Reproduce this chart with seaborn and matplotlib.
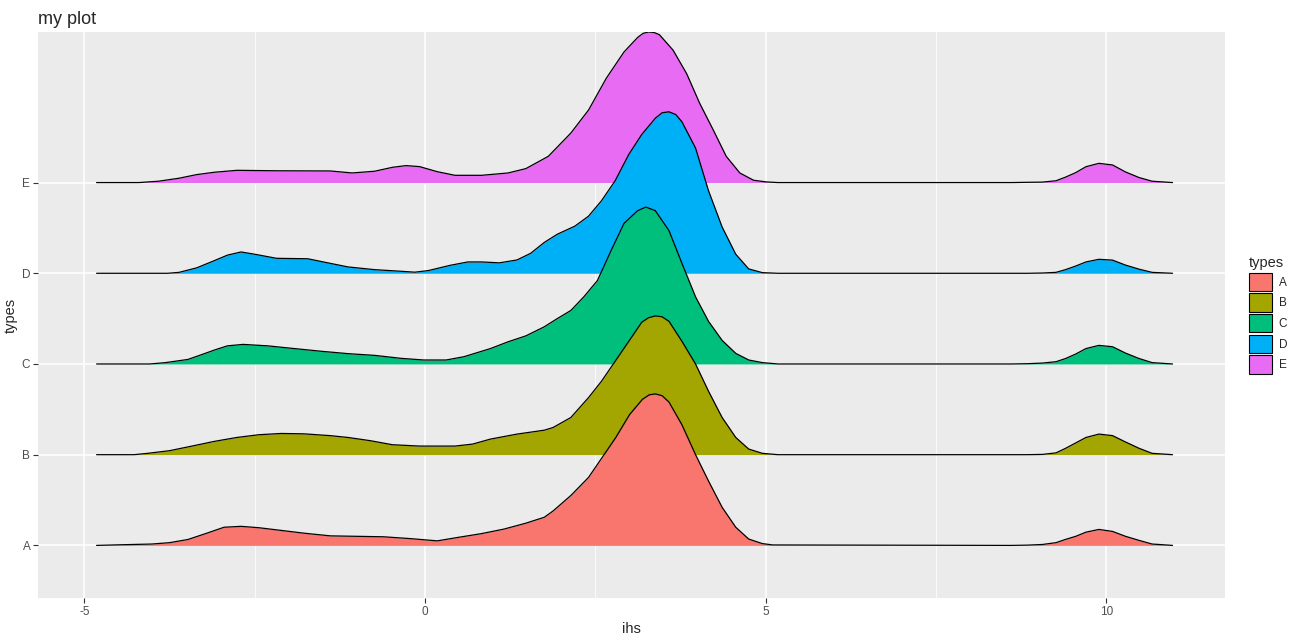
import numpy as np
import pandas as pd
import seaborn as sns
import matplotlib.pyplot as plt
from matplotlib.patches import Patch

# density profiles (x in ihs units, height in row units)
types = ["A", "B", "C", "D", "E"]
colors = ["#F8766D", "#A3A500", "#00BF7D", "#00B0F6", "#E76BF3"]

bump_x = [8.6, 8.84, 9.06, 9.26, 9.40, 9.55, 9.70, 9.89, 10.09, 10.28, 10.48, 10.67, 10.97]

a_x = [-4.82, -4.46, -4.01, -3.75, -3.48, -3.22, -2.95, -2.70, -2.44, -2.11, -1.78, -1.39, -1.00,
       -0.61, -0.22, 0.18, 0.50, 0.83, 1.16, 1.48, 1.75, 1.88, 2.14, 2.40, 2.60, 2.80, 3.00,
       3.19, 3.29, 3.38, 3.48, 3.58, 3.77, 3.97, 4.16, 4.36, 4.56, 4.75, 4.95, 5.10]
a_h = [0, 0.007, 0.015, 0.03, 0.065, 0.13, 0.20, 0.21, 0.195, 0.165, 0.135, 0.105, 0.10,
       0.095, 0.075, 0.05, 0.09, 0.13, 0.18, 0.245, 0.31, 0.38, 0.55, 0.75, 0.97, 1.19, 1.44,
       1.61, 1.66, 1.67, 1.65, 1.58, 1.33, 1.00, 0.71, 0.42, 0.20, 0.07, 0.02, 0.005]
a_bump = [0, 0.003, 0.01, 0.03, 0.066, 0.10, 0.146, 0.176, 0.154, 0.10, 0.055, 0.015, 0]

b_x = [-4.82, -4.27, -4.07, -3.75, -3.42, -3.09, -2.76, -2.44, -2.11, -1.78, -1.39, -1.13, -0.80,
       -0.48, -0.08, 0.44, 0.70, 0.96, 1.35, 1.75, 1.88, 2.14, 2.40, 2.59, 2.79, 2.99, 3.18,
       3.28, 3.38, 3.48, 3.58, 3.77, 3.97, 4.16, 4.36, 4.56, 4.75, 4.95, 5.18]
b_h = [0, 0, 0.015, 0.044, 0.095, 0.147, 0.19, 0.22, 0.234, 0.23, 0.21, 0.19, 0.154,
       0.11, 0.095, 0.095, 0.117, 0.172, 0.227, 0.27, 0.30, 0.41, 0.63, 0.81, 1.03, 1.25, 1.46,
       1.51, 1.53, 1.52, 1.47, 1.25, 1.00, 0.70, 0.41, 0.19, 0.062, 0.015, 0]
b_bump = [0, 0, 0.003, 0.02, 0.07, 0.13, 0.19, 0.227, 0.21, 0.14, 0.07, 0.015, 0]

c_x = [-4.82, -4.04, -3.81, -3.48, -3.29, -3.09, -2.90, -2.67, -2.31, -1.92, -1.52, -1.13, -0.74,
       -0.35, -0.02, 0.31, 0.57, 0.96, 1.22, 1.48, 1.75, 1.94, 2.14, 2.33, 2.53, 2.73, 2.92,
       3.12, 3.24, 3.38, 3.58, 3.77, 3.97, 4.16, 4.36, 4.56, 4.75, 4.95, 5.18]
c_h = [0, 0, 0.015, 0.05, 0.10, 0.154, 0.20, 0.216, 0.20, 0.17, 0.14, 0.114, 0.095,
       0.062, 0.044, 0.044, 0.08, 0.17, 0.245, 0.31, 0.41, 0.50, 0.59, 0.74, 0.92, 1.25, 1.55,
       1.69, 1.73, 1.69, 1.47, 1.11, 0.74, 0.47, 0.26, 0.117, 0.044, 0.015, 0]
c_bump = [0, 0.003, 0.01, 0.025, 0.06, 0.11, 0.17, 0.205, 0.19, 0.12, 0.06, 0.015, 0]

d_x = [-4.82, -3.78, -3.61, -3.35, -3.09, -2.90, -2.70, -2.50, -2.18, -1.72, -1.46, -1.13, -0.74,
       -0.35, -0.15, 0.05, 0.37, 0.63, 0.83, 1.09, 1.35, 1.55, 1.75, 1.94, 2.20, 2.40, 2.59,
       2.79, 2.99, 3.18, 3.38, 3.48, 3.58, 3.68, 3.77, 3.97, 4.16, 4.36, 4.56, 4.75, 4.95, 5.18]
d_h = [0, 0, 0.01, 0.06, 0.14, 0.20, 0.235, 0.21, 0.165, 0.16, 0.12, 0.07, 0.04,
       0.022, 0.012, 0.03, 0.088, 0.125, 0.125, 0.115, 0.147, 0.22, 0.34, 0.43, 0.52, 0.63, 0.80,
       1.02, 1.31, 1.53, 1.71, 1.77, 1.78, 1.75, 1.67, 1.38, 0.91, 0.51, 0.21, 0.048, 0.007, 0]
d_bump = [0, 0, 0.003, 0.01, 0.04, 0.08, 0.125, 0.154, 0.145, 0.09, 0.045, 0.01, 0]

e_x = [-4.82, -4.20, -3.91, -3.61, -3.35, -3.09, -2.76, -2.18, -1.39, -1.07, -0.74, -0.48, -0.28,
       -0.08, 0.18, 0.44, 0.83, 1.22, 1.48, 1.81, 2.14, 2.40, 2.66, 2.92, 3.12, 3.20, 3.28, 3.36,
       3.44, 3.64, 3.84, 4.03, 4.23, 4.42, 4.62, 4.82, 5.01, 5.18]
e_h = [0, 0, 0.015, 0.048, 0.088, 0.114, 0.135, 0.13, 0.128, 0.106, 0.125, 0.168, 0.187,
       0.176, 0.12, 0.08, 0.08, 0.106, 0.154, 0.29, 0.546, 0.80, 1.15, 1.44, 1.60, 1.645, 1.66, 1.655,
       1.63, 1.46, 1.20, 0.875, 0.58, 0.29, 0.106, 0.026, 0.007, 0]
e_bump = [0, 0.003, 0.005, 0.02, 0.06, 0.11, 0.175, 0.212, 0.194, 0.117, 0.055, 0.015, 0]

series = {
    "A": (a_x + bump_x, a_h + a_bump),
    "B": (b_x + bump_x, b_h + b_bump),
    "C": (c_x + bump_x, c_h + c_bump),
    "D": (d_x + bump_x, d_h + d_bump),
    "E": (e_x + bump_x, e_h + e_bump),
}

sns.set_theme(style="darkgrid", rc={
    "axes.facecolor": "#EBEBEB",
    "grid.color": "white",
})
plt.rcParams['font.family'] = ['Liberation Sans', 'DejaVu Sans']
plt.rcParams['axes.unicode_minus'] = False

fig = plt.figure(figsize=(13.03, 6.44), dpi=100)
ax = fig.add_axes([38 / 1303, 1 - 598 / 644, (1225 - 38) / 1303, (598 - 32) / 644])

# top rows first so the lower ridges overlap them
for i in reversed(range(len(types))):
    t = types[i]
    xs, hs = series[t]
    df = pd.DataFrame({"ihs": xs, "h": hs})
    df["y"] = df["h"] + (i + 1)
    ax.fill_between(df["ihs"], i + 1, df["y"], color=colors[i], lw=0, zorder=3 + (5 - i) * 2)
    sns.lineplot(data=df, x="ihs", y="y", color="black", lw=0.9, ax=ax,
                 zorder=4 + (5 - i) * 2, sort=False)

ax.set_xlim(-5.68, 11.74)
ax.set_ylim(0.42, 6.66)
ax.set_xticks([-5, 0, 5, 10])
ax.set_xticks([-2.5, 2.5, 7.5], minor=True)
ax.set_yticks([1, 2, 3, 4, 5])
ax.set_yticklabels(types)
ax.grid(which="major", color="white", lw=1.1, zorder=1)
ax.grid(which="minor", axis="x", color="white", lw=0.55, zorder=1)
ax.set_axisbelow(True)
for s in ax.spines.values():
    s.set_visible(False)
ax.tick_params(axis="both", which="major", length=3.5, width=0.8, color="#333333",
               labelcolor="#4D4D4D", labelsize=8.5, pad=2, bottom=True, left=True)
ax.tick_params(axis="both", which="minor", length=0)

ax.set_xlabel("ihs", fontsize=10.5, labelpad=3)
ax.set_ylabel("types", fontsize=10.5, labelpad=3)
ax.set_title("my plot", loc="left", fontsize=13, pad=6)

handles = [Patch(facecolor=c, edgecolor="black", lw=0.8, label=t) for t, c in zip(types, colors)]
leg = ax.legend(handles=handles, title="types", loc="center left", bbox_to_anchor=(1.016, 0.5),
                frameon=False, fontsize=8.5, title_fontsize=10.5, handlelength=1.95,
                handleheight=2.0, labelspacing=0.2, handletextpad=0.6, borderaxespad=0)
leg._legend_box.align = "left"

fig.savefig("out.png", dpi=100)
